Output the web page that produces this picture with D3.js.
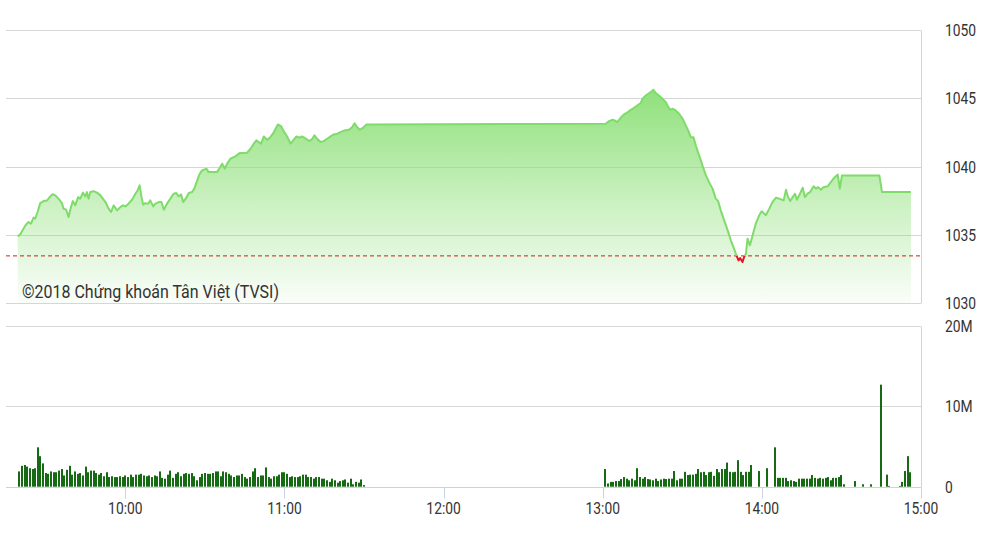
<!DOCTYPE html>
<html><head><meta charset="utf-8">
<script src="https://cdn.jsdelivr.net/npm/d3@7"></script>
<style>
html,body{margin:0;padding:0;background:#fff;}
svg{display:block;font-family:Roboto,"Noto Sans",sans-serif;}
</style>
</head><body>
<svg id="chart" width="985" height="553"></svg>
<script>
// ---------------- DATA ----------------
const priceTimes = [
"09:19:24","09:20:24","09:22:18","09:23:30","09:24:24","09:25:24","09:26:00","09:26:54","09:27:54","09:29:12",
"09:30:30","09:31:42","09:32:36","09:33:36","09:34:48","09:36:06","09:36:42","09:37:42","09:38:36","09:39:30",
"09:40:12","09:41:06","09:42:12","09:43:00","09:44:00","09:44:54","09:45:30","09:46:06","09:46:48","09:48:00",
"09:49:18","09:50:36","09:52:30","09:53:42","09:54:36","09:55:36","09:56:54","09:58:06","09:59:06","10:00:00",
"10:01:12","10:02:30","10:03:48","10:04:36","10:05:24","10:06:00","10:06:42","10:07:30","10:08:36","10:09:24",
"10:10:30","10:11:18","10:12:36","10:13:36","10:14:30","10:15:42","10:17:00","10:18:12","10:19:12","10:20:06",
"10:21:00","10:21:48","10:23:00","10:23:54","10:25:12","10:26:00","10:27:06","10:27:54","10:28:54","10:30:36",
"10:31:24","10:33:18","10:34:36","10:35:36","10:36:30","10:37:30","10:38:24","10:39:36","10:41:30","10:43:06",
"10:44:36","10:45:54","10:47:12","10:48:24","10:49:24","10:50:18","10:51:12","10:52:12","10:53:30","10:54:42",
"10:56:00","10:57:30","10:58:48","10:59:42","11:01:00","11:02:18","11:03:18","11:04:30","11:05:48","11:06:36",
"11:07:30","11:08:36","11:09:30","11:10:30","11:11:18","11:12:18","11:13:36","11:14:48","11:16:06","11:17:24",
"11:18:36","11:19:54","11:21:06","11:22:36","11:24:18","11:25:30","11:26:24","11:27:24","11:28:24","11:29:42",
"11:30:54",
"13:01:06","13:02:24","13:03:42","13:04:30","13:05:30","13:06:48","13:08:00","13:09:30","13:10:36","13:11:48",
"13:13:06","13:14:18","13:15:00","13:16:12","13:17:30","13:18:30","13:19:06","13:20:00","13:21:12","13:22:30",
"13:23:48","13:24:36","13:25:24","13:26:18","13:27:30","13:28:48","13:30:06","13:31:18","13:32:12","13:33:12",
"13:34:12","13:35:06","13:35:54","13:37:00","13:38:00","13:38:54","13:40:06","13:41:24","13:42:36","13:43:30",
"13:44:30","13:45:48","13:47:06","13:48:18","13:49:30","13:50:24","13:51:12","13:51:48","13:52:42","13:53:18",
"13:54:00","13:54:36","13:55:30","13:56:30","13:57:42","13:59:00","13:59:54","14:00:54","14:01:30","14:02:48",
"14:04:00","14:05:18","14:06:30","14:08:12","14:09:06","14:09:54","14:10:42","14:11:36","14:12:30","14:13:12",
"14:14:06","14:15:24","14:16:12","14:17:12","14:18:12","14:19:30","14:20:24","14:21:12","14:22:18","14:23:12",
"14:24:48","14:26:00","14:27:18","14:28:36","14:29:24","14:30:12","14:44:18","14:45:18","14:56:12"
];
const priceValues = [
1034.90,1035.05,1035.70,1035.95,1035.83,1036.27,1036.19,1036.68,1037.33,1037.48,
1037.53,1037.82,1037.99,1037.90,1037.66,1037.33,1036.93,1036.85,1036.31,1037.04,
1037.48,1037.17,1037.77,1037.66,1038.10,1037.82,1038.14,1037.66,1038.14,1038.21,
1038.10,1037.90,1037.41,1036.93,1036.68,1037.17,1036.80,1037.04,1037.17,1037.09,
1037.29,1037.58,1038.02,1038.26,1038.63,1037.90,1037.22,1037.33,1037.29,1037.53,
1037.09,1037.29,1037.41,1037.41,1036.85,1037.29,1037.66,1038.02,1038.07,1037.82,
1037.97,1037.41,1037.73,1038.07,1038.14,1038.39,1038.99,1039.43,1039.73,1039.85,
1039.60,1039.60,1039.60,1039.92,1040.22,1039.85,1040.22,1040.58,1040.75,1040.99,
1040.99,1041.02,1041.31,1041.68,1041.92,1041.80,1041.68,1042.21,1041.97,1042.16,
1042.53,1043.09,1042.94,1042.60,1042.21,1041.68,1041.92,1042.21,1042.12,1042.21,
1042.12,1041.97,1041.87,1042.04,1042.29,1042.04,1041.80,1041.87,1042.04,1042.21,
1042.36,1042.41,1042.53,1042.65,1042.70,1042.89,1043.18,1042.89,1042.70,1042.85,
1043.09,
1043.14,1043.33,1043.43,1043.38,1043.26,1043.58,1043.82,1043.99,1044.16,1044.31,
1044.48,1044.65,1044.97,1045.21,1045.38,1045.52,1045.63,1045.38,1045.21,1044.97,
1044.72,1044.41,1044.16,1044.24,1044.11,1043.87,1043.51,1043.02,1042.65,1042.16,
1042.16,1041.55,1041.06,1040.46,1039.85,1039.36,1038.87,1038.39,1037.66,1037.48,
1036.80,1036.07,1035.34,1034.61,1034.00,1033.51,1033.14,1033.31,1033.02,1033.39,
1033.63,1034.73,1034.24,1034.97,1035.83,1036.44,1036.73,1036.56,1036.44,1036.93,
1037.41,1037.73,1037.66,1037.53,1038.31,1037.77,1037.48,1037.77,1038.02,1037.58,
1037.90,1038.46,1037.77,1038.02,1038.14,1038.56,1038.39,1038.50,1038.31,1038.50,
1038.56,1038.87,1039.19,1039.43,1038.39,1039.36,1039.36,1038.14,1038.14
];
const referenceValue = 1033.47;   // previous close

// volume, millions of shares, one bar per minute
const morningVolumeStart = "09:20";
const morningVolume = [
1.9,2.6,2.7,2.5,2.3,2.2,2.3,4.9,3.8,2.9,
1.7,1.6,1.9,1.8,1.8,2.0,2.2,1.4,2.1,2.6,
1.5,1.9,1.6,1.7,1.4,2.5,1.8,2.0,2.0,1.7,
1.5,1.7,1.3,1.8,1.2,1.3,1.2,1.2,1.3,1.2,
1.4,1.2,1.5,1.2,1.5,1.5,1.6,1.4,1.3,1.4,
1.2,1.4,1.3,1.9,1.1,1.0,1.5,2.0,1.1,1.6,
1.8,1.3,1.6,1.7,1.6,1.7,1.3,0.8,1.2,1.6,
1.7,1.6,1.6,1.7,1.9,1.9,1.3,1.9,1.8,1.6,
1.4,1.2,1.4,1.4,1.6,1.2,1.0,1.2,1.9,2.3,
1.2,1.4,1.4,2.4,1.2,1.0,1.3,1.3,1.5,1.8,
1.8,1.6,1.2,1.3,1.2,1.2,1.3,1.5,1.5,1.2,
1.2,1.0,1.2,1.2,1.0,1.0,0.8,0.6,1.0,0.8,
0.5,0.7,0.8,0.9,0.5,1.0,0.3,0.6,0.5,0.9,0.2
];
const afternoonVolumeStart = "13:01";
const afternoonVolume = [
2.2,0.4,0.6,0.6,0.7,0.7,0.95,1.2,1.0,0.8,
1.0,0.8,2.3,1.2,1.0,1.2,0.95,0.9,0.8,1.0,
0.7,0.9,1.0,0.95,1.0,1.0,1.95,0.8,1.0,1.0,
1.85,1.45,1.5,1.5,1.6,2.2,1.8,1.85,1.45,1.8,
1.85,1.35,2.2,1.8,2.2,2.2,3.0,1.85,1.8,1.85,
3.3,1.85,1.45,1.85,1.85,2.7,null,null,1.95,null,
null,2.3,null,null,4.9,1.1,1.1,1.1,1.1,0.7,
0.8,0.7,0.6,1.0,1.0,1.0,1.0,1.0,1.45,1.1,
1.0,1.1,1.0,1.1,1.2,0.8,1.1,1.1,1.2,1.45,
0.3
];
const lateVolumeTimes = ["14:35","14:38","14:41","14:45","14:47","14:48","14:52","14:53","14:54","14:55","14:56"];
const lateVolume = [0.7,0.3,0.3,12.7,1.5,0.1,0.1,0.6,1.95,3.8,1.8];

const priceTicks = [1030,1035,1040,1045,1050];
const volumeTicks = [0,10,20];
const volumeTickLabels = ["0","10M","20M"];
const timeTicks = ["10:00","11:00","12:00","13:00","14:00","15:00"];
const axisStart = "09:15", axisEnd = "15:00";
const watermark = "©2018 Chứng khoán Tân Việt (TVSI)";

// ---------------- DRAW ----------------
const svg = d3.select("#chart");
const pT = d3.timeParse("%H:%M:%S"), pHM = d3.timeParse("%H:%M");
const L = 6, R = 921;
const x = d3.scaleTime().domain([pHM(axisStart), pHM(axisEnd)]).range([L, R]);
const yP = d3.scaleLinear().domain([1030,1050]).range([303.3, 30]);
const yV = d3.scaleLinear().domain([0,20]).range([486.7, 326]);
const crisp = v => Math.round(v) + 0.5;

const gridColor = "#d6d6d6", axisColor = "#c8d4e6", textColor = "#333";

// gradient
const defs = svg.append("defs");
const grad = defs.append("linearGradient").attr("id","fillGrad")
  .attr("gradientUnits","userSpaceOnUse").attr("x1",0).attr("x2",0)
  .attr("y1",yP(1046)).attr("y2",yP(1030));
grad.append("stop").attr("offset",0).attr("stop-color","#8de078").attr("stop-opacity",1);
grad.append("stop").attr("offset",0.55).attr("stop-color","#8de078").attr("stop-opacity",0.45);
grad.append("stop").attr("offset",1).attr("stop-color","#8de078").attr("stop-opacity",0.04);

const yRef = yP(referenceValue);
defs.append("clipPath").attr("id","clipAbove").append("rect")
  .attr("x",0).attr("y",0).attr("width",985).attr("height",yRef);
defs.append("clipPath").attr("id","clipBelow").append("rect")
  .attr("x",0).attr("y",yRef).attr("width",985).attr("height",400);

// price gridlines
svg.append("g").selectAll("line").data(priceTicks).join("line")
  .attr("x1",L).attr("x2",R).attr("y1",d=>crisp(yP(d))).attr("y2",d=>crisp(yP(d)))
  .attr("stroke",gridColor).attr("stroke-width",1);

const pts = priceTimes.map((t,i)=>({t:pT(t), v:priceValues[i]}));

// area
svg.append("path").datum(pts)
  .attr("d", d3.area().x(d=>x(d.t)).y0(yP(1030)).y1(d=>yP(d.v)))
  .attr("fill","url(#fillGrad)");

// watermark
svg.append("text").attr("x",22).attr("y",297.5)
  .attr("font-size",18.5).attr("fill",textColor)
  .attr("textLength",257).attr("lengthAdjust","spacingAndGlyphs")
  .text(watermark);

// reference line
svg.append("line").attr("x1",L).attr("x2",R).attr("y1",yRef).attr("y2",yRef)
  .attr("stroke","#cc1f1f").attr("stroke-width",1).attr("stroke-dasharray","4,3");

// price line (green above ref, red below)
const lineGen = d3.line().x(d=>x(d.t)).y(d=>yP(d.v));
svg.append("path").datum(pts).attr("d",lineGen)
  .attr("fill","none").attr("stroke","#7fdc6b").attr("stroke-width",2)
  .attr("stroke-linejoin","round").attr("clip-path","url(#clipAbove)");
svg.append("path").datum(pts).attr("d",lineGen)
  .attr("fill","none").attr("stroke","#e8161c").attr("stroke-width",2)
  .attr("stroke-linejoin","round").attr("clip-path","url(#clipBelow)");

// right border top panel
svg.append("line").attr("x1",R+0.5).attr("x2",R+0.5).attr("y1",crisp(yP(1050))).attr("y2",crisp(yP(1030)))
  .attr("stroke",axisColor).attr("stroke-width",1);

// price labels
svg.append("g").selectAll("text").data(priceTicks).join("text")
  .attr("transform",d=>`translate(945,${yP(d)}) scale(0.84,1)`)
  .attr("dy","0.36em").attr("font-size",16.5).attr("fill",textColor)
  .text(d=>d);

// volume gridlines
svg.append("g").selectAll("line").data(volumeTicks.filter(d=>d>0)).join("line")
  .attr("x1",L).attr("x2",R).attr("y1",d=>crisp(yV(d))).attr("y2",d=>crisp(yV(d)))
  .attr("stroke",gridColor).attr("stroke-width",1);

// volume bars
const vol = [];
morningVolume.forEach((v,i)=>{ if(v!=null) vol.push({t:d3.timeMinute.offset(pHM(morningVolumeStart),i), v}); });
afternoonVolume.forEach((v,i)=>{ if(v!=null) vol.push({t:d3.timeMinute.offset(pHM(afternoonVolumeStart),i), v}); });
lateVolumeTimes.forEach((t,i)=>vol.push({t:pHM(t), v:lateVolume[i]}));

// x axis line
svg.append("line").attr("x1",L).attr("x2",R).attr("y1",crisp(yV(0))).attr("y2",crisp(yV(0)))
  .attr("stroke",axisColor).attr("stroke-width",1);

svg.append("g").selectAll("rect").data(vol).join("rect")
  .attr("x",d=>Math.round(x(d.t))-1).attr("width",2)
  .attr("y",d=>yV(d.v)).attr("height",d=>Math.max(0.5, yV(0)-yV(d.v)))
  .attr("fill","#166a14");

// right border volume panel
svg.append("line").attr("x1",R+0.5).attr("x2",R+0.5).attr("y1",crisp(yV(20))).attr("y2",crisp(yV(0)))
  .attr("stroke",axisColor).attr("stroke-width",1);

// time ticks
svg.append("g").selectAll("line").data(timeTicks).join("line")
  .attr("x1",d=>crisp(x(pHM(d)))).attr("x2",d=>crisp(x(pHM(d))))
  .attr("y1",crisp(yV(0))).attr("y2",crisp(yV(0))+11)
  .attr("stroke",axisColor).attr("stroke-width",1);
svg.append("g").selectAll("text").data(timeTicks).join("text")
  .attr("transform",d=>`translate(${x(pHM(d))},508.5) scale(0.84,1)`)
  .attr("dy","0.36em").attr("text-anchor","middle")
  .attr("font-size",16.5).attr("fill",textColor).text(d=>d);

// volume labels
svg.append("g").selectAll("text").data(volumeTicks).join("text")
  .attr("transform",d=>`translate(945,${yV(d)}) scale(0.84,1)`)
  .attr("dy","0.36em").attr("font-size",16.5).attr("fill",textColor)
  .text((d,i)=>volumeTickLabels[i]);
</script>
</body></html>
